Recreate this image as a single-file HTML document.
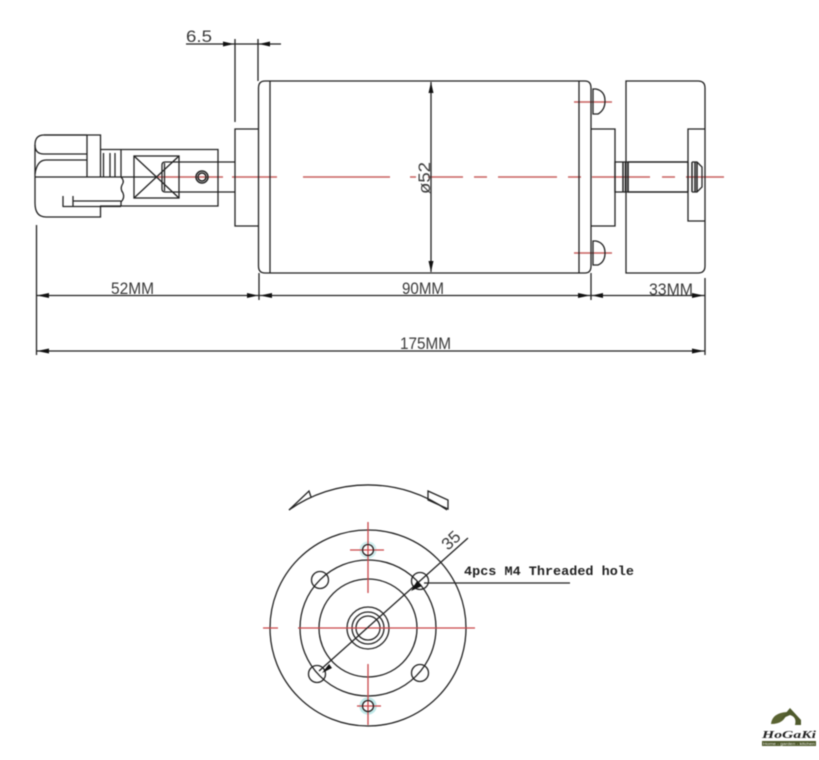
<!DOCTYPE html>
<html><head><meta charset="utf-8"><style>
html,body{margin:0;padding:0;background:#fff}
svg{display:block;filter:blur(.4px)}
text{font-family:"Liberation Sans",sans-serif;fill:#3a3a3a}
</style></head><body>
<svg width="819" height="760" viewBox="0 0 819 760" xmlns="http://www.w3.org/2000/svg">
<rect width="819" height="760" fill="#fff"/>
<!-- red centerlines -->
<g stroke="#c9605f" stroke-width="1.4" fill="none">
<path d="M157 177H223M232 177H277M303 177H390M410 177H416M428 177H463M474 177H487M498 177H557M568 177H581M592 177H650M662 177H675M686 177H724"/>
<path d="M574 102H612M574 253H612"/>
</g>
<!-- black linework top -->
<g stroke="#222" stroke-width="1.3" fill="none">
<!-- motor body -->
<path d="M258.500 88Q258.500 81 265 81H585Q591 81 591 88V266Q591 273 585 273H265Q258.500 273 258.500 266Z"/>
<path d="M270 81V273M579 81V273"/>
<!-- front boss -->
<path d="M258 129H235V226H258"/>
<!-- 6.5 dim -->
<path d="M235 39V122M258 39V81M186 44H281"/>
<!-- collet -->
<path d="M87 135H44Q35 135 35 145Q35 154 44 154H87"/>
<path d="M44 135H100.500V177M35 145V203Q35 217 46 217H100.500V206"/>
<path d="M87 135V177M35 177H157"/>
<path d="M35 174Q37 160 46 160H87"/>
<path d="M100 149.500H218V206H100"/>
<path d="M121 149.500V177"/>
<path d="M103.500 153V177M110 153V177M115 153V177"/>
<path d="M121 177Q125 181 122 185Q120 189 123 193Q125 198 121 202V206"/>
<path d="M63 196V207M73 196V207M73 201H121M63 206.500H121"/>
<!-- square and cross -->
<rect x="134" y="156" width="45" height="42"/>
<path d="M134 156L179 198M179 156L134 198"/>
<path d="M235 162H165Q162 162 162 165V189Q162 192 165 192H235"/>
<path d="M164.500 163V191"/>
<circle cx="202" cy="177" r="6" stroke-width="1.5"/><circle cx="202" cy="177" r="4" stroke-width="1.5"/>
<!-- rear boss and shaft -->
<path d="M591 129H615V226H591"/>
<path d="M615 162H628V192H615Z"/>
<path d="M623 162V192M625.500 162V192M628 162V192M628 162H688M628 192H688" stroke-width="1.5"/>
<!-- fan -->
<path d="M626 81H698Q705 81 705 88V266Q705 273 698 273H626Z"/>
<path d="M705 129H688V221H705"/>
<path d="M692 162V192M695 162V192M697 162V192" stroke-width="1.5"/>
<path d="M688 162V192M692 162H697L702 167V187L697 192H692"/>
<!-- screws -->
<path d="M593 89V114H598Q605 110 605 101Q605 91 596 89H593Z"/>
<path d="M593 241V265H598Q605 262 605 253Q605 243 596 241H593Z"/>
<!-- dimensions -->
<path d="M36.500 225V355M259 273V300M591 273V300M705 278V355"/>
<path d="M37 295.500H705M37 351H705M431 82V272"/>
</g>
<!-- arrowheads -->
<g fill="#111" stroke="none">
<path d="M234 44L223 41.500V46.500ZM259 44L270 41.500V46.500Z"/>
<path d="M37 295.500L49 293V298ZM258 295.500L247 293V298ZM260 295.500L272 293V298ZM590 295.500L578 293V298ZM592 295.500L603 293V298ZM704 295.500L692 293V298Z"/>
<path d="M37 351L49 348.500V353.500ZM704 351L692 348.500V353.500Z"/>
<path d="M431 82L428.500 93H433.500ZM431 272L428.500 261H433.500Z"/>
</g>
<!-- top labels -->
<text x="186" y="42" font-size="17" textLength="26" lengthAdjust="spacingAndGlyphs">6.5</text>
<text x="111" y="294" font-size="16.500" textLength="43" lengthAdjust="spacingAndGlyphs">52MM</text>
<text x="402" y="294" font-size="16.500" textLength="42" lengthAdjust="spacingAndGlyphs">90MM</text>
<text x="649" y="295" font-size="16.500" textLength="44" lengthAdjust="spacingAndGlyphs">33MM</text>
<text x="400" y="349" font-size="16.500" textLength="51" lengthAdjust="spacingAndGlyphs">175MM</text>
<text transform="translate(430 194) rotate(-90)" font-size="17" textLength="32" lengthAdjust="spacingAndGlyphs">ø52</text>
<!-- bottom view -->
<circle cx="368" cy="550" r="7.500" fill="none" stroke="#cdeeee" stroke-width="2"/>
<circle cx="368" cy="706" r="7.500" fill="none" stroke="#bfe8e8" stroke-width="2.500"/>
<g stroke="#222" stroke-width="1.300" fill="none">
<path d="M289 510A137 137 0 0 1 447 510"/>
<path d="M289 510L309 491L311 497M428 491L448 500V509L428 500Z"/>
<circle cx="368" cy="628" r="98"/>
<circle cx="368" cy="628" r="68"/>
<circle cx="368" cy="628" r="49"/>
<circle cx="368" cy="628" r="21"/>
<circle cx="368" cy="628" r="16"/>
<circle cx="368" cy="628" r="12"/>
<circle cx="320" cy="580" r="8.500"/>
<circle cx="420" cy="581" r="8.500"/>
<circle cx="317" cy="674" r="8.500"/>
<circle cx="420" cy="673" r="8.500"/>
</g>
<g stroke="#c9474a" stroke-width="1.300" fill="none">
<path d="M368 522V593M368 664V725M350 550H384M357 706H381M263 628H278M298 628H475"/>
</g>
<circle cx="368" cy="550" r="5.500" fill="none" stroke="#222" stroke-width="1.300"/>
<circle cx="368" cy="706" r="5.500" fill="none" stroke="#222" stroke-width="1.300"/>
<g stroke="#222" stroke-width="1.300" fill="none">
<path d="M319 671L468 538M424 583H570"/>
</g>
<path d="M411 591L417 581L422 586ZM322 673L329 664L332 668Z" fill="#111"/>
<text transform="translate(448 551) rotate(-43)" font-size="17">35</text>
<text x="464" y="575" style="font-family:'Liberation Mono',monospace;font-weight:bold;fill:#222" font-size="13" textLength="170" lengthAdjust="spacingAndGlyphs">4pcs M4 Threaded hole</text>
<!-- logo -->
<path d="M771 724Q772 713 787 712Q785 724 771 724Z" fill="#5a6332"/>
<path d="M780 720L790 708L801 720V725H795Q797 717 790 715Q785 717 780 720Z" fill="#4f5a2c"/>
<text x="762" y="738" font-size="10.500" font-weight="bold" font-style="italic" style="font-family:'Liberation Serif',serif;fill:#222" textLength="54" lengthAdjust="spacingAndGlyphs">HoGaKi</text>
<rect x="762" y="741" width="54" height="5" fill="#4f5a2c"/>
<text x="763" y="745" font-size="4" style="fill:#eee" textLength="52" lengthAdjust="spacingAndGlyphs">Home - garden - kitchen</text>
</svg>
</body></html>
